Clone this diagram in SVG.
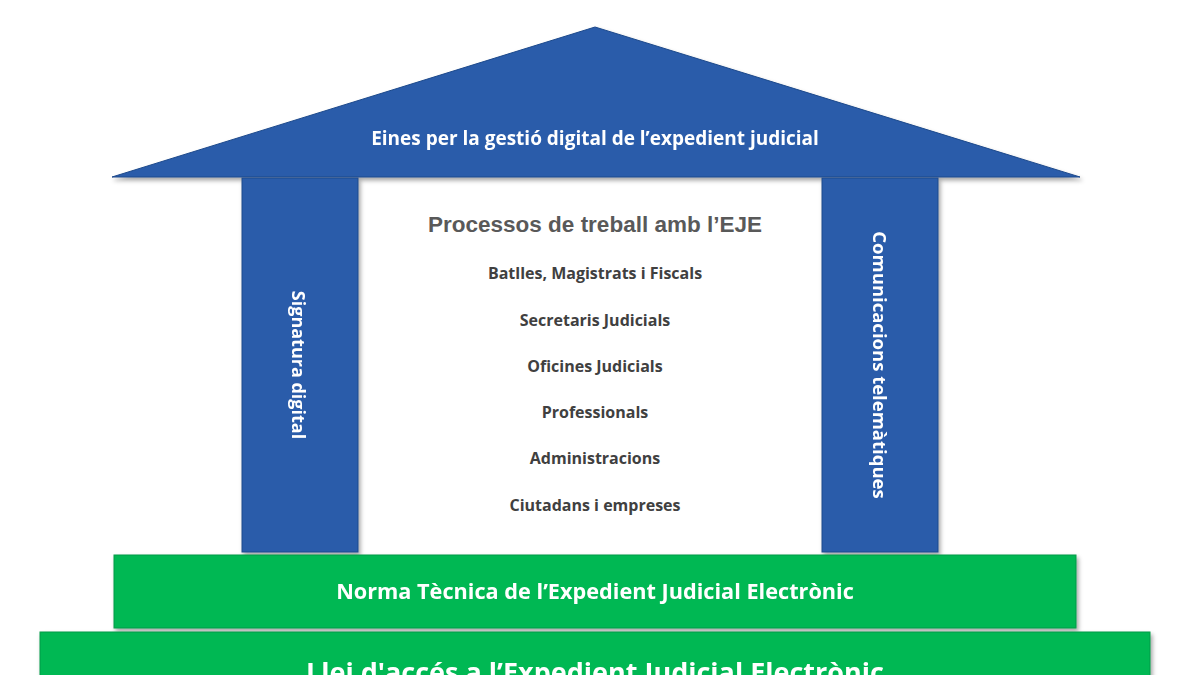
<svg xmlns="http://www.w3.org/2000/svg" width="1200" height="675" viewBox="0 0 1200 675">
<style>
.blue{fill:#2a5caa;stroke:#1e4a8c;stroke-width:1}
.green{fill:#00b852;stroke:#0a9a48;stroke-width:1}
.w{fill:#fff;font-family:"Open Sans","Liberation Sans",sans-serif;font-weight:bold;text-anchor:middle}
.g{fill:#404040;font-family:"Open Sans","Liberation Sans",sans-serif;font-weight:bold;text-anchor:middle;font-size:16px}
</style>
<defs>
<filter id="sh" x="-10%" y="-10%" width="120%" height="130%"><feDropShadow dx="2" dy="3" stdDeviation="2" flood-color="#000" flood-opacity="0.35"/></filter>
</defs>
<rect width="1200" height="675" fill="#fff"/>
<g id="roof" filter="url(#sh)"><polygon class="blue" points="595,27 1080,177 112,177"/>
<text class="w" x="595" y="145" font-size="19">Eines per la gestió digital de l’expedient judicial</text></g>
<g id="pillar-left" filter="url(#sh)"><rect class="blue" x="242" y="178" width="116" height="374"/>
<text class="w" font-size="18" transform="translate(292,365) rotate(90)">Signatura digital</text></g>
<g id="pillar-right" filter="url(#sh)"><rect class="blue" x="822" y="178" width="116" height="374"/>
<text class="w" font-size="18.5" transform="translate(873,365) rotate(90)">Comunicacions telemàtiques</text></g>
<g id="processes">
<text x="595" y="232" text-anchor="middle" font-family="Liberation Sans,Arial,sans-serif" font-weight="bold" font-size="22.5" fill="#595959">Processos de treball amb l’EJE</text>
<text class="g" x="595" y="279">Batlles, Magistrats i Fiscals</text>
<text class="g" x="595" y="326">Secretaris Judicials</text>
<text class="g" x="595" y="372">Oficines Judicials</text>
<text class="g" x="595" y="418">Professionals</text>
<text class="g" x="595" y="464">Administracions</text>
<text class="g" x="595" y="511">Ciutadans i empreses</text>
</g>
<g id="norma" filter="url(#sh)"><rect class="green" x="114" y="555" width="962" height="73"/>
<text class="w" x="595" y="599" font-size="21.7">Norma Tècnica de l’Expedient Judicial Electrònic</text></g>
<g id="llei" filter="url(#sh)"><rect class="green" x="40" y="632" width="1110" height="60"/>
<text class="w" x="595" y="682" font-size="27">Llei d'accés a l’Expedient Judicial Electrònic</text></g>
<g id="connectors"/>
</svg>
